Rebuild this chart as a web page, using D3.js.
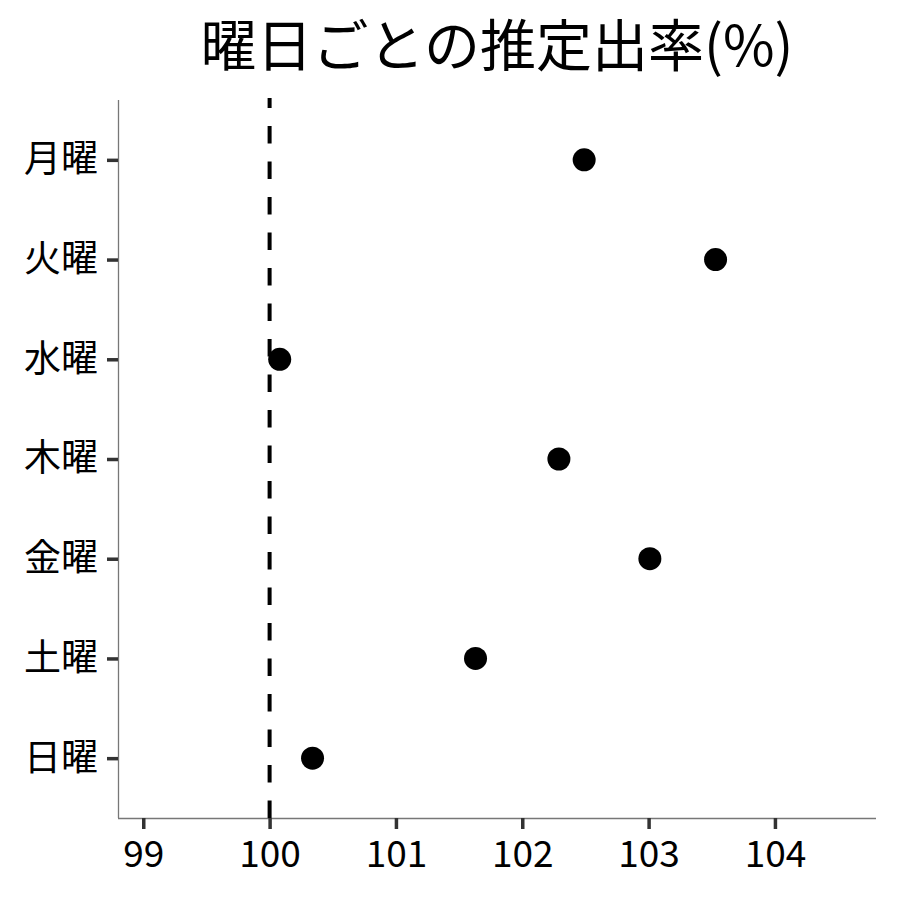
<!DOCTYPE html>
<html><head><meta charset="utf-8">
<script src="https://cdn.jsdelivr.net/npm/d3@7"></script>
<style>body{margin:0;background:#fff}svg{display:block}text{font-family:"Noto Sans CJK JP","Noto Sans",sans-serif}</style>
</head><body><svg id="c" width="900" height="900"></svg>
<script>
const days = ["月曜","火曜","水曜","木曜","金曜","土曜","日曜"];
const values = [102.49, 103.53, 100.08, 102.29, 103.01, 101.63, 100.34];
const xTicks = [99,100,101,102,103,104];
const refValue = 100;
const title = "曜日ごとの推定出率(%)";

const svg = d3.select("#c");
const L = 118, R = 876, T = 100, B = 818;
const x = d3.scaleLinear().domain([98.8, 104.8]).range([L, R]);
const y = d3.scalePoint().domain(days).range([T, B]).padding(0.6);

// axes
const gx = svg.append("g").attr("transform",`translate(0,${B})`)
  .call(d3.axisBottom(x).tickValues(xTicks).tickSize(11).tickPadding(12).tickFormat(d3.format("d")));
const gy = svg.append("g").attr("transform",`translate(${L},0)`)
  .call(d3.axisLeft(y).tickSize(11).tickPadding(9));
[gx,gy].forEach(g=>{
  g.select(".domain").attr("stroke","#777").attr("stroke-width",1.3);
  g.selectAll(".tick line").attr("stroke","#333").attr("stroke-width",3.5);
  g.selectAll(".tick text").attr("fill","#000").attr("font-size",37)
   .attr("font-family",'"Noto Sans CJK JP","Noto Sans",sans-serif');
});
gx.select(".domain").attr("d",`M${L},0.5H${R}`);
gy.select(".domain").attr("d",`M0.5,${T}V${B}`);

// reference line
svg.append("line").attr("x1",x(refValue)).attr("x2",x(refValue))
  .attr("y1",B).attr("y2",T-2).attr("stroke","#000").attr("stroke-width",4)
  .attr("stroke-dasharray","17.5,18");

// points
svg.append("g").selectAll("circle").data(values).join("circle")
  .attr("cx",d=>x(d)).attr("cy",(d,i)=>y(days[i])).attr("r",11.5).attr("fill","#000");

// title
svg.append("text").attr("x",(L+R)/2).attr("y",66).attr("text-anchor","middle")
  .attr("font-size",56).attr("fill","#000").text(title);
</script></body></html>
